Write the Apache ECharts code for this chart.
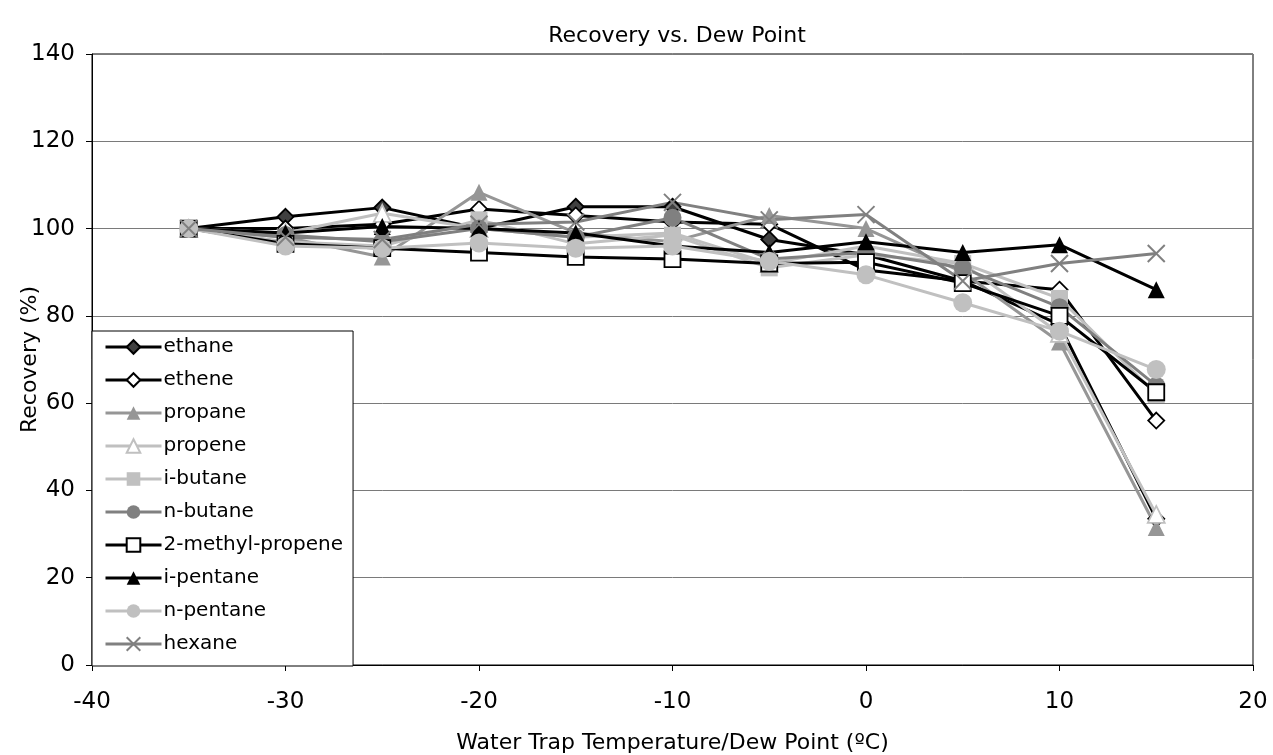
<!DOCTYPE html>
<html>
<head>
<meta charset="utf-8">
<script src="https://cdn.jsdelivr.net/npm/echarts@6/dist/echarts.min.js"></script>
<style>
  html, body { margin: 0; padding: 0; background: #fff; }
  #chart { width: 1273px; height: 755px; }
</style>
</head>
<body>
<div id="chart"></div>
<script>
// Water trap temperature / dew point (ºC)
const temperatures = [-35, -30, -25, -20, -15, -10, -5, 0, 5, 10, 15];

// Recovery (%) per compound
const ethane         = [100, 102.7, 104.8, 100.0, 105.0, 105.0, 97.5, 94.0, 88.0, 78.0, 33.5];
const ethene         = [100, 100.0, 101.0, 104.5, 103.0, 101.5, 101.0, 90.5, 88.0, 86.0, 56.0];
const propane        = [100, 98.0, 93.5, 108.3, 99.0, 97.0, 103.0, 100.0, 90.0, 74.0, 31.5];
const propene        = [100, 99.0, 103.5, 100.0, 98.0, 99.0, 92.0, 96.0, 92.0, 76.0, 34.5];
const iButane        = [100, 97.0, 96.0, 102.0, 96.5, 98.5, 91.0, 94.0, 92.0, 84.0, 62.0];
const nButane        = [100, 98.5, 97.0, 100.0, 98.0, 102.5, 93.0, 94.5, 91.0, 82.0, 64.0];
const methylPropene  = [100, 96.5, 95.5, 94.5, 93.5, 93.0, 92.0, 92.3, 87.5, 80.0, 62.5];
const iPentane       = [100, 99.0, 100.5, 100.0, 99.0, 96.0, 94.5, 97.0, 94.5, 96.3, 86.0];
const nPentane       = [100, 96.0, 95.5, 96.7, 95.5, 96.0, 92.5, 89.4, 83.0, 76.5, 67.7];
const hexane         = [100, 98.0, 97.5, 101.0, 101.5, 106.0, 102.0, 103.2, 88.0, 92.0, 94.3];

const xTicks = { min: -40, max: 20, interval: 10 };
const yTicks = { min: 0, max: 140, interval: 20 };

const FONT = 'DejaVu Sans, Liberation Sans, sans-serif';
const CROSS = 'path://M0,0L10,10M10,0L0,10';

function pairs(values) {
  return temperatures.map((t, i) => [t, values[i]]);
}

function makeSeries(name, values, lineColor, symbol, fill, border, size) {
  return {
    name: name,
    type: 'line',
    data: pairs(values),
    symbol: symbol,
    symbolSize: size,
    showSymbol: true,
    lineStyle: { color: lineColor, width: 3 },
    itemStyle: { color: fill, borderColor: border, borderWidth: border === fill ? 0 : 1.8 },
    emphasis: { disabled: true },
    z: 2
  };
}

const series = [
  makeSeries('ethane', ethane, '#000000', 'diamond', '#404040', '#000000', 16),
  makeSeries('ethene', ethene, '#000000', 'diamond', '#ffffff', '#000000', 16),
  makeSeries('propane', propane, '#969696', 'triangle', '#969696', '#969696', 17),
  makeSeries('propene', propene, '#c0c0c0', 'triangle', '#ffffff', '#c0c0c0', 17),
  makeSeries('i-butane', iButane, '#c0c0c0', 'rect', '#c0c0c0', '#c0c0c0', 17),
  makeSeries('n-butane', nButane, '#808080', 'circle', '#808080', '#808080', 18),
  makeSeries('2-methyl-propene', methylPropene, '#000000', 'rect', '#ffffff', '#000000', 16),
  makeSeries('i-pentane', iPentane, '#000000', 'triangle', '#000000', '#000000', 17),
  makeSeries('n-pentane', nPentane, '#c0c0c0', 'circle', '#c0c0c0', '#c0c0c0', 19),
  {
    name: 'hexane',
    type: 'line',
    data: pairs(hexane),
    symbol: CROSS,
    symbolSize: 17,
    lineStyle: { color: '#808080', width: 3 },
    itemStyle: { color: 'none', borderColor: '#808080', borderWidth: 2 },
    emphasis: { disabled: true },
    z: 2
  }
];

const chart = echarts.init(document.getElementById('chart'), null, { renderer: 'canvas' });

chart.setOption({
  animation: false,
  backgroundColor: '#ffffff',
  textStyle: { fontFamily: FONT },
  title: {
    text: 'Recovery vs. Dew Point',
    left: 672,
    textAlign: 'center',
    top: 20,
    textStyle: { fontFamily: FONT, fontSize: 22, fontWeight: 'normal', color: '#000' }
  },
  grid: {
    left: 92, right: 20, top: 54, bottom: 90,
    outerBoundsMode: 'none',
    containLabel: false,
    show: true, borderColor: '#000', borderWidth: 1, backgroundColor: '#fff'
  },
  legend: {
    orient: 'vertical',
    left: 92,
    top: 331,
    width: 263,
    padding: [6, 10, 12, 12],
    itemWidth: 56,
    itemHeight: 17,
    itemGap: 13,
    backgroundColor: '#ffffff',
    borderColor: '#000',
    borderWidth: 1,
    borderRadius: 0,
    lineStyle: { width: 3 },
    textStyle: { fontFamily: FONT, fontSize: 20, color: '#000', padding: [0, 0, 0, -3] },
    data: series.map(s => s.name)
  },
  xAxis: {
    type: 'value',
    min: xTicks.min, max: xTicks.max, interval: xTicks.interval,
    name: 'Water Trap Temperature/Dew Point (ºC)',
    nameLocation: 'middle',
    nameGap: 67,
    nameMoveOverlap: false,
    nameTextStyle: { fontFamily: FONT, fontSize: 22, color: '#000' },
    axisLine: { show: true, onZero: false, lineStyle: { color: '#000', width: 1 } },
    axisTick: { show: true, inside: false, length: 6, lineStyle: { color: '#000' } },
    axisLabel: { fontFamily: FONT, fontSize: 23, color: '#000', margin: 26 },
    splitLine: { show: false }
  },
  yAxis: {
    type: 'value',
    min: yTicks.min, max: yTicks.max, interval: yTicks.interval,
    name: 'Recovery (%)',
    nameLocation: 'middle',
    nameGap: 51,
    nameRotate: 90,
    nameMoveOverlap: false,
    nameTextStyle: { fontFamily: FONT, fontSize: 22, color: '#000' },
    axisLine: { show: true, onZero: false, lineStyle: { color: '#000', width: 1 } },
    axisTick: { show: true, inside: false, length: 6, lineStyle: { color: '#000' } },
    axisLabel: { fontFamily: FONT, fontSize: 23, color: '#000', margin: 17 },
    splitLine: { show: true, lineStyle: { color: '#7a7a7a', width: 1 } }
  },
  series: series
});
</script>
</body>
</html>
